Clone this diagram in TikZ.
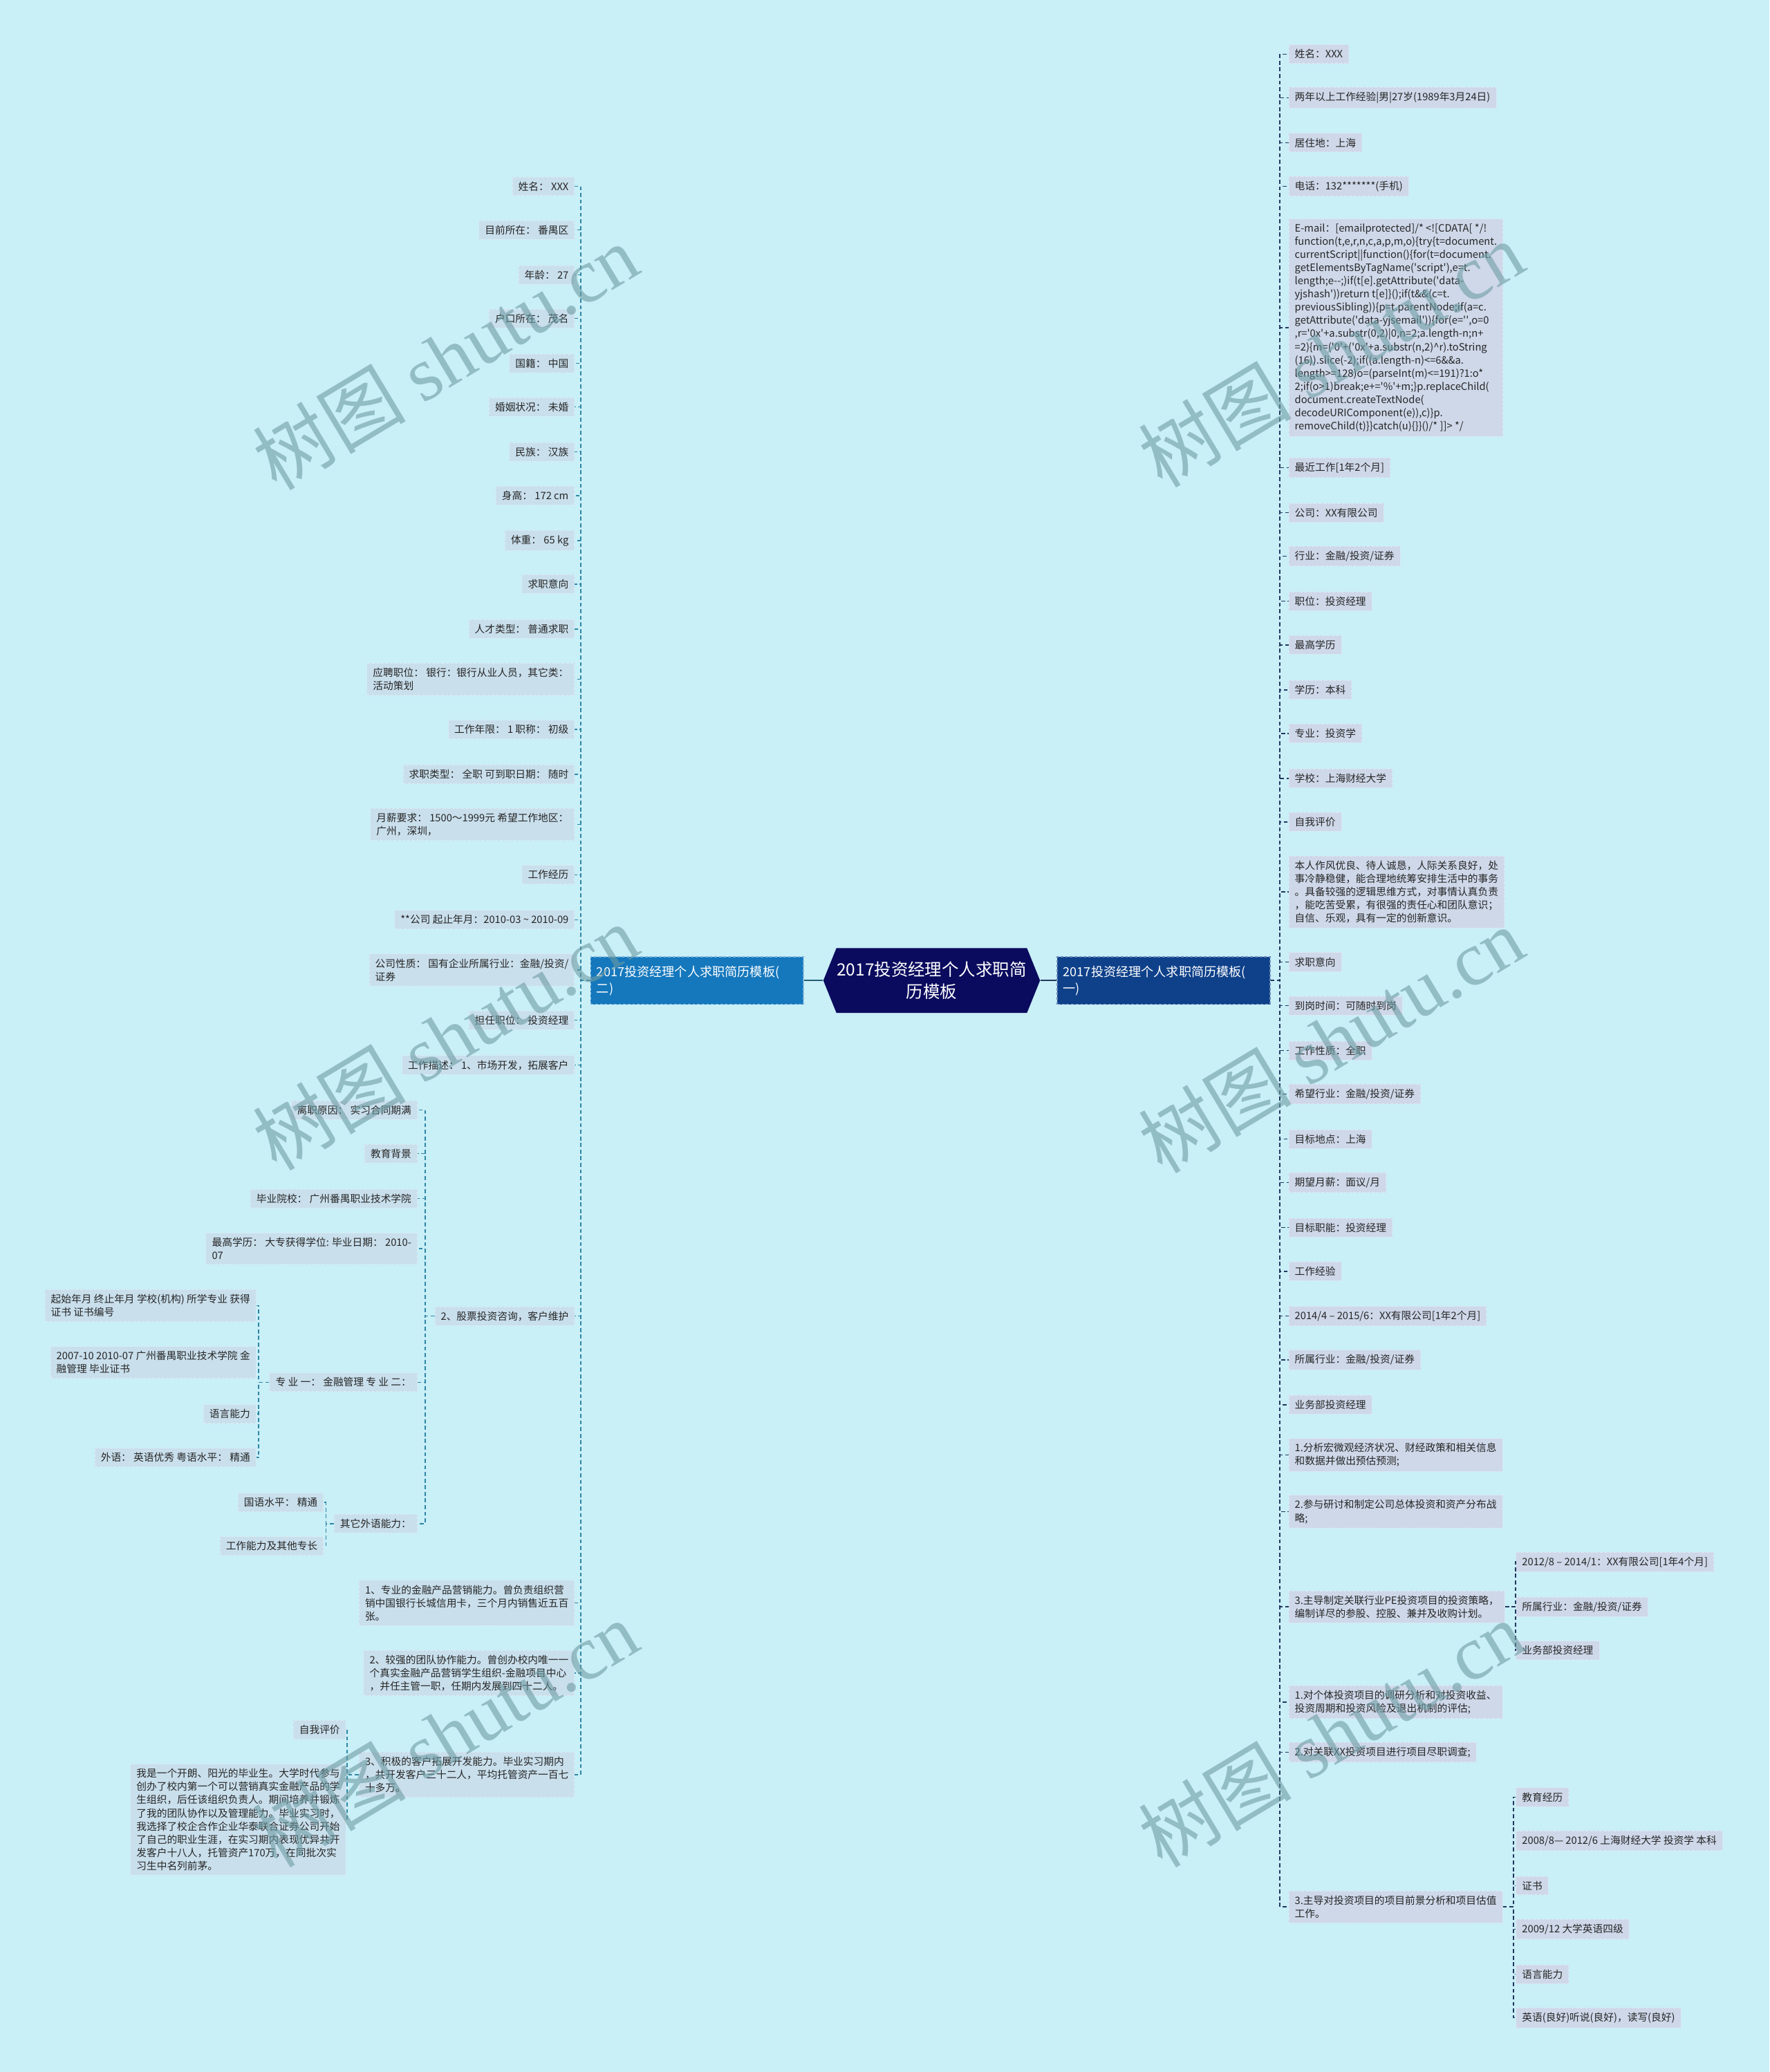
\documentclass[tikz,border=0pt]{standalone}
\usepackage{fontspec}
\setmainfont{Noto Sans CJK SC}
\newfontfamily\wmserif{Liberation Serif}
\usetikzlibrary{shapes.symbols}
\definecolor{bgc}{HTML}{C9EFF7}
\definecolor{lfill}{HTML}{C9DFEC}
\definecolor{rfill}{HTML}{CED8E9}
\definecolor{lborder}{HTML}{DCEBF3}
\definecolor{rborder}{HTML}{E0E6F1}
\definecolor{lline}{HTML}{2E86A6}
\definecolor{rline}{HTML}{22375E}
\definecolor{rootc}{HTML}{0A0B5E}
\definecolor{lbranch}{HTML}{1578BD}
\definecolor{rbranch}{HTML}{0F418A}
\definecolor{txt}{HTML}{262626}
\definecolor{wmc}{HTML}{6E9CA3}
\newcommand\sq{\textquotesingle}
\begin{document}
\begin{tikzpicture}[x=1pt,y=-1pt,
  base/.style={inner xsep=4.5pt, inner ysep=3.5pt, text=txt, font=\fontsize{7.7}{10}\selectfont, align=left},
  lnode/.style={base, fill=lfill, draw=lborder, dash pattern=on 2pt off 1.5pt, line width=0.5pt, anchor=east},
  rnode/.style={base, fill=rfill, draw=rborder, dash pattern=on 2pt off 1.5pt, line width=0.5pt, anchor=west},
  lcon/.style={draw=lline, line width=0.8pt, dash pattern=on 3pt off 2pt},
  rcon/.style={draw=rline, line width=0.8pt, dash pattern=on 3pt off 2pt},
  branch/.style={text=white, font=\fontsize{9.5}{12.5}\selectfont, align=left, text width=152pt, inner xsep=4.5pt, minimum height=36pt, line width=0.8pt, dash pattern=on 2pt off 1.5pt},
  rootnode/.style={signal, signal to=west and east, signal pointer angle=136, fill=rootc, text=white, font=\fontsize{12.8}{17}\selectfont, align=center, minimum width=164pt, minimum height=49pt, inner xsep=0pt},
  wm/.style={text=wmc, opacity=0.6, font=\fontsize{58}{60}\selectfont, rotate=31},
]
\fill[bgc] (0,0) rectangle (1339,1568);
\useasboundingbox (0,0) rectangle (1339,1568);

% root and branches
\node[rootnode] (root) at (705,742) {2017投资经理个人求职简\\历模板};
\node[branch, fill=lbranch, draw=lbranch!55!white] (bl) at (527.5,742) {2017投资经理个人求职简历模板(\\二)};
\node[branch, fill=rbranch, draw=rbranch!60!white] (br) at (880.5,742) {2017投资经理个人求职简历模板(\\一)};
\draw[draw=lline!70!black, line width=1.2pt] (root.west) -- (bl.east);
\draw[draw=rline, line width=1.2pt] (root.east) -- (br.west);

% left side children
\node[lnode] (L1) at (435,141) {姓名： XXX};
\node[lnode] (L2) at (435,174) {目前所在： 番禺区};
\node[lnode] (L3) at (435,208) {年龄： 27};
\node[lnode] (L4) at (435,241) {户口所在： 茂名};
\node[lnode] (L5) at (435,275) {国籍： 中国};
\node[lnode] (L6) at (435,308) {婚姻状况： 未婚};
\node[lnode] (L7) at (435,342) {民族： 汉族};
\node[lnode] (L8) at (435,375) {身高： 172 cm};
\node[lnode] (L9) at (435,409) {体重： 65 kg};
\node[lnode] (L10) at (435,442) {求职意向};
\node[lnode] (L11) at (435,476) {人才类型： 普通求职};
\node[lnode] (L12) at (435,514) {应聘职位： 银行：银行从业人员，其它类：\\活动策划};
\node[lnode] (L13) at (435,552) {工作年限： 1 职称： 初级};
\node[lnode] (L14) at (435,586) {求职类型： 全职 可到职日期： 随时};
\node[lnode] (L15) at (435,624) {月薪要求： 1500～1999元 希望工作地区：\\广州，深圳，};
\node[lnode] (L16) at (435,662) {工作经历};
\node[lnode] (L17) at (435,696) {**公司 起止年月：2010-03 \textasciitilde{} 2010-09};
\node[lnode] (L18) at (435,734) {公司性质： 国有企业所属行业：金融/投资/\\证券};
\node[lnode] (L19) at (435,772) {担任职位： 投资经理};
\node[lnode] (L20) at (435,806) {工作描述： 1、市场开发，拓展客户};
\node[lnode] (L21) at (435,996) {2、股票投资咨询，客户维护};
\node[lnode] (L22) at (435,1213) {1、专业的金融产品营销能力。曾负责组织营\\销中国银行长城信用卡，三个月内销售近五百\\张。};
\node[lnode] (L23) at (435,1266) {2、较强的团队协作能力。曾创办校内唯一一\\个真实金融产品营销学生组织-金融项目中心\\，并任主管一职，任期内发展到四十二人。};
\node[lnode] (L24) at (435,1343) {3、积极的客户拓展开发能力。毕业实习期内\\，共开发客户三十二人，平均托管资产一百七\\十多万。};

% children of L21
\node[lnode] (M1) at (316,840) {离职原因： 实习合同期满};
\node[lnode] (M2) at (316,873) {教育背景};
\node[lnode] (M3) at (316,907) {毕业院校： 广州番禺职业技术学院};
\node[lnode] (M4) at (316,945) {最高学历： 大专获得学位: 毕业日期： 2010-\\07};
\node[lnode] (M5) at (316,1046) {专 业 一： 金融管理 专 业 二：};
\node[lnode] (M6) at (316,1153) {其它外语能力：};

% children of M5
\node[lnode] (N1) at (194,988) {起始年月 终止年月 学校(机构) 所学专业 获得\\证书 证书编号};
\node[lnode] (N2) at (194,1031) {2007-10 2010-07 广州番禺职业技术学院 金\\融管理 毕业证书};
\node[lnode] (N3) at (194,1070) {语言能力};
\node[lnode] (N4) at (194,1103) {外语： 英语优秀 粤语水平： 精通};

% children of M6
\node[lnode] (P1) at (245,1137) {国语水平： 精通};
\node[lnode] (P2) at (245,1170) {工作能力及其他专长};

% children of L24
\node[lnode] (Q1) at (262,1309) {自我评价};
\node[lnode] (Q2) at (262,1377) {我是一个开朗、阳光的毕业生。大学时代参与\\创办了校内第一个可以营销真实金融产品的学\\生组织，后任该组织负责人。期间培养并锻炼\\了我的团队协作以及管理能力。毕业实习时，\\我选择了校企合作企业华泰联合证券公司开始\\了自己的职业生涯，在实习期内表现优异共开\\发客户十八人，托管资产170万，在同批次实\\习生中名列前茅。};

% right side children
\node[rnode] (R1) at (975,41) {姓名：XXX};
\node[rnode] (R2) at (975,74) {两年以上工作经验|男|27岁(1989年3月24日)};
\node[rnode] (R3) at (975,108) {居住地：上海};
\node[rnode] (R4) at (975,141) {电话：132*******(手机)};
\node[rnode] (R5) at (975,248) {E-mail：[emailprotected]/* <![CDATA[ */!\\function(t,e,r,n,c,a,p,m,o)\{try\{t=document.\\currentScript||function()\{for(t=document.\\getElementsByTagName(\sq script\sq),e=t.\\length;e-{}-;)if(t[e].getAttribute(\sq data-\\yjshash\sq))return t[e]\}();if(t\&\&(c=t.\\previousSibling))\{p=t.parentNode;if(a=c.\\getAttribute(\sq data-yjsemail\sq))\{for(e=\sq\sq,o=0\\,r=\sq 0x\sq+a.substr(0,2)|0,n=2;a.length-n;n+\\=2)\{m=(\sq 0\sq+(\sq 0x\sq+a.substr(n,2)\textasciicircum r).toString\\(16)).slice(-2);if((a.length-n)<=6\&\&a.\\length>=128)o=(parseInt(m)<=191)?1:o*\\2;if(o>1)break;e+=\sq\%\sq+m;\}p.replaceChild(\\document.createTextNode(\\decodeURIComponent(e)),c)\}p.\\removeChild(t)\}\}catch(u)\{\}\}()/* ]]> */};
\node[rnode] (R6) at (975,354) {最近工作[1年2个月]};
\node[rnode] (R7) at (975,388) {公司：XX有限公司};
\node[rnode] (R8) at (975,421) {行业：金融/投资/证券};
\node[rnode] (R9) at (975,455) {职位：投资经理};
\node[rnode] (R10) at (975,488) {最高学历};
\node[rnode] (R11) at (975,522) {学历：本科};
\node[rnode] (R12) at (975,555) {专业：投资学};
\node[rnode] (R13) at (975,589) {学校：上海财经大学};
\node[rnode] (R14) at (975,622) {自我评价};
\node[rnode] (R15) at (975,675) {本人作风优良、待人诚恳，人际关系良好，处\\事冷静稳健，能合理地统筹安排生活中的事务\\。具备较强的逻辑思维方式，对事情认真负责\\，能吃苦受累，有很强的责任心和团队意识；\\自信、乐观，具有一定的创新意识。};
\node[rnode] (R16) at (975,728) {求职意向};
\node[rnode] (R17) at (975,761) {到岗时间：可随时到岗};
\node[rnode] (R18) at (975,795) {工作性质：全职};
\node[rnode] (R19) at (975,828) {希望行业：金融/投资/证券};
\node[rnode] (R20) at (975,862) {目标地点：上海};
\node[rnode] (R21) at (975,895) {期望月薪：面议/月};
\node[rnode] (R22) at (975,929) {目标职能：投资经理};
\node[rnode] (R23) at (975,962) {工作经验};
\node[rnode] (R24) at (975,996) {2014/4 – 2015/6：XX有限公司[1年2个月]};
\node[rnode] (R25) at (975,1029) {所属行业：金融/投资/证券};
\node[rnode] (R26) at (975,1063) {业务部投资经理};
\node[rnode] (R27) at (975,1101) {1.分析宏微观经济状况、财经政策和相关信息\\和数据并做出预估预测;};
\node[rnode] (R28) at (975,1144) {2.参与研讨和制定公司总体投资和资产分布战\\略;};
\node[rnode] (R29) at (975,1216) {3.主导制定关联行业PE投资项目的投资策略，\\编制详尽的参股、控股、兼并及收购计划。};
\node[rnode] (R30) at (975,1288) {1.对个体投资项目的调研分析和对投资收益、\\投资周期和投资风险及退出机制的评估;};
\node[rnode] (R31) at (975,1326) {2.对关联XX投资项目进行项目尽职调查;};
\node[rnode] (R32) at (975,1443) {3.主导对投资项目的项目前景分析和项目估值\\工作。};

% children of R29
\node[rnode] (S1) at (1147,1182) {2012/8 – 2014/1：XX有限公司[1年4个月]};
\node[rnode] (S2) at (1147,1216) {所属行业：金融/投资/证券};
\node[rnode] (S3) at (1147,1249) {业务部投资经理};

% children of R32
\node[rnode] (T1) at (1147,1360) {教育经历};
\node[rnode] (T2) at (1147,1393) {2008/8— 2012/6 上海财经大学 投资学 本科};
\node[rnode] (T3) at (1147,1427) {证书};
\node[rnode] (T4) at (1147,1460) {2009/12 大学英语四级};
\node[rnode] (T5) at (1147,1494) {语言能力};
\node[rnode] (T6) at (1147,1527) {英语(良好)听说(良好)，读写(良好)};

% connectors
\foreach \i in {1,...,24} \draw[lcon] (bl.west) -- ++(-7,0) |- (L\i.east);
\foreach \i in {1,...,6} \draw[lcon] (L21.west) -- ++(-7,0) |- (M\i.east);
\foreach \i in {1,...,4} \draw[lcon] (M5.west) -- ++(-8,0) |- (N\i.east);
\foreach \i in {1,2} \draw[lcon] (M6.west) -- ++(-6,0) |- (P\i.east);
\foreach \i in {1,2} \draw[lcon] (L24.west) -- ++(-9,0) |- (Q\i.east);
\foreach \i in {1,...,32} \draw[rcon] (br.east) -- ++(7,0) |- (R\i.west);
\foreach \i in {1,2,3} \draw[rcon] (R29.east) -- ++(8,0) |- (S\i.west);
\foreach \i in {1,...,6} \draw[rcon] (R32.east) -- ++(8,0) |- (T\i.west);

% watermarks
\node[wm] (w1) at (337,270) {树图 {\wmserif shutu.cn}};
\node[wm] (w2) at (1007,268) {树图 {\wmserif shutu.cn}};
\node[wm] (w3) at (337,785) {树图 {\wmserif shutu.cn}};
\node[wm] (w4) at (1007,787) {树图 {\wmserif shutu.cn}};
\node[wm] (w5) at (337,1312) {树图 {\wmserif shutu.cn}};
\node[wm] (w6) at (1007,1312) {树图 {\wmserif shutu.cn}};
\end{tikzpicture}
\end{document}
